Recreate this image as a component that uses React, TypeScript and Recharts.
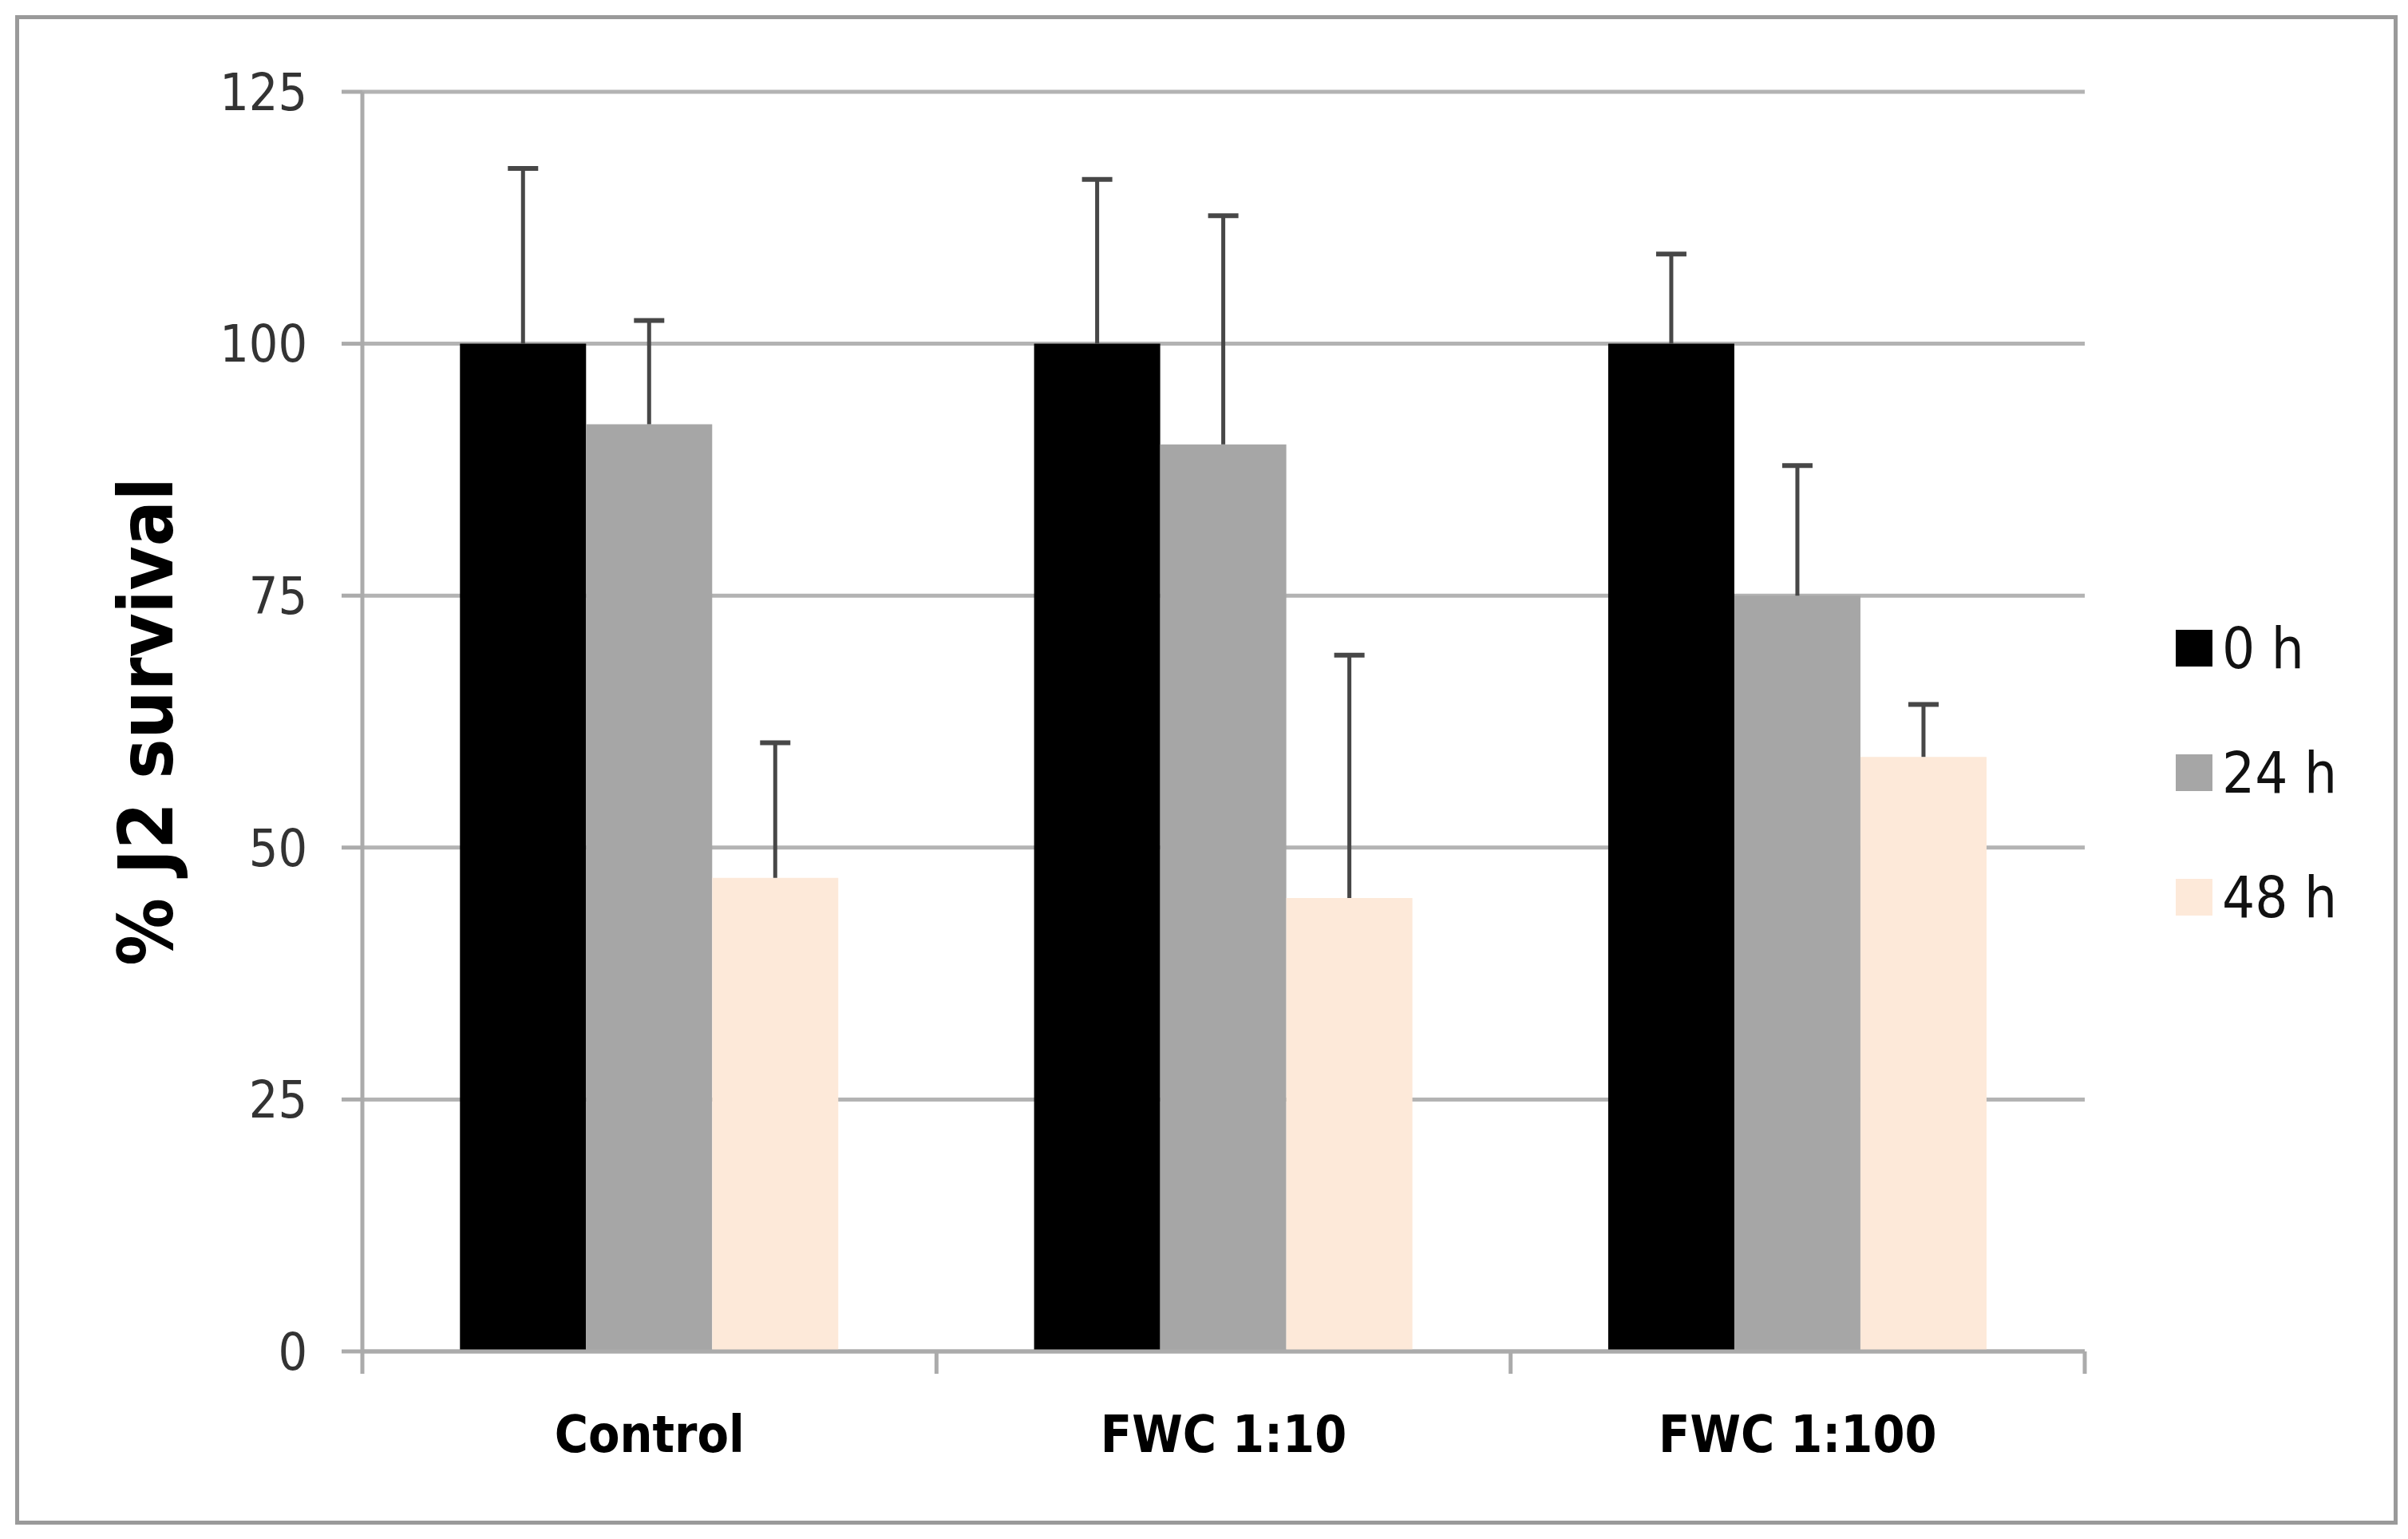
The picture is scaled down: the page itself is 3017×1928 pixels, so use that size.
import React from "react";
import {
  BarChart,
  Bar,
  XAxis,
  YAxis,
  CartesianGrid,
  Legend,
  Rectangle,
} from "recharts";

// values
const categories = ["Control", "FWC 1:10", "FWC 1:100"];
const survival0h = [100, 100, 100];
const survival24h = [92, 90, 75];
const survival48h = [47, 45, 59];
const err0h = [17.4, 16.3, 8.9];
const err24h = [10.3, 22.7, 12.9];
const err48h = [13.4, 24.1, 5.2];
const yTicks = [0, 25, 50, 75, 100, 125];

const series = [
  { key: "h0", err: "e0", name: "0 h", color: "#000000" },
  { key: "h24", err: "e24", name: "24 h", color: "#a6a6a6" },
  { key: "h48", err: "e48", name: "48 h", color: "#fde9d9" },
];

const data = categories.map((c, i) => ({
  name: c,
  h0: survival0h[i],
  h24: survival24h[i],
  h48: survival48h[i],
  e0: err0h[i],
  e24: err24h[i],
  e48: err48h[i],
}));

const W = 3017;
const H = 1928;
const M = { top: 115, right: 405, bottom: 85, left: 0 };
const Y_W = 454;
const X_H = 150;
const PLOT_W = W - M.left - M.right - Y_W;
const X_TICK = 28;
const X_MARGIN = 53;

const FONT = '"Liberation Sans Narrow", "DejaVu Sans Condensed", "Liberation Sans", sans-serif';
const AXIS_GRAY = "#ababab";

function BarWithError(props: any) {
  const { x, y, width, height, fill, payload, value, errKey } = props;
  const v = Array.isArray(value) ? value[1] - value[0] : value;
  const perUnit = v ? height / v : 0;
  const errPx = (payload?.[errKey] ?? 0) * perUnit;
  const cx = x + width / 2;
  const top = y - errPx;
  return (
    <g>
      <Rectangle x={x} y={y} width={width} height={height} fill={fill} />
      <line x1={cx} y1={y} x2={cx} y2={top} stroke="#474747" strokeWidth={5} />
      <line x1={cx - 19} y1={top} x2={cx + 19} y2={top} stroke="#474747" strokeWidth={6} />
    </g>
  );
}

function CategoryTick(props: any) {
  const { x, y, payload, index, visibleTicksCount } = props;
  const band = PLOT_W / categories.length;
  const axisY = y - X_TICK - X_MARGIN;
  const left = x - band / 2;
  return (
    <g>
      <line x1={left} y1={axisY} x2={left} y2={axisY + X_TICK} stroke={AXIS_GRAY} strokeWidth={5} />
      {index === visibleTicksCount - 1 && (
        <line x1={x + band / 2} y1={axisY} x2={x + band / 2} y2={axisY + X_TICK} stroke={AXIS_GRAY} strokeWidth={5} />
      )}
      <text
        x={x}
        y={y}
        dy="0.71em"
        textAnchor="middle"
        fontFamily={FONT}
        fontWeight="bold"
        fontSize={64}
        fill="#000"
      >
        {payload.value}
      </text>
    </g>
  );
}

function LegendBox(props: any) {
  const items = props.payload || [];
  return (
    <div style={{ fontFamily: FONT, fontSize: 72, color: "#111" }}>
      {items.map((it: any) => (
        <div key={it.value} style={{ display: "flex", alignItems: "center", height: 156 }}>
          <span style={{ width: 46, height: 46, background: it.color, display: "inline-block", marginRight: 12 }} />
          <span style={{ lineHeight: 1 }}>{it.value}</span>
        </div>
      ))}
    </div>
  );
}

export default function App() {
  return (
    <div style={{ position: "absolute", left: 0, top: 0, width: W, height: H, background: "#fff" }}>
      <div
        style={{
          position: "absolute",
          left: 19,
          top: 19,
          width: 3004 - 19,
          height: 1910 - 19,
          border: "5px solid #9a9a9a",
          boxSizing: "border-box",
          pointerEvents: "none",
        }}
      />
      <BarChart
        width={W}
        height={H}
        data={data}
        margin={M}
        barCategoryGap="17%"
        barGap={0}
      >
        <CartesianGrid vertical={false} stroke="#b3b3b3" strokeWidth={5} />
        <XAxis
          dataKey="name"
          height={X_H}
          axisLine={{ stroke: AXIS_GRAY, strokeWidth: 5 }}
          tickLine={false}
          tickSize={X_TICK}
          tickMargin={X_MARGIN}
          tick={<CategoryTick />}
          interval={0}
        />
        <YAxis
          width={Y_W}
          domain={[0, 125]}
          ticks={yTicks}
          interval={0}
          axisLine={{ stroke: AXIS_GRAY, strokeWidth: 5 }}
          tickLine={{ stroke: AXIS_GRAY, strokeWidth: 5 }}
          tickSize={26}
          tickMargin={43}
          tick={{ fontFamily: FONT, fontSize: 64, fill: "#333" }}
          label={{
            value: "% J2 survival",
            angle: -90,
            position: "insideLeft",
            offset: 183,
            style: { textAnchor: "middle", fontFamily: FONT, fontWeight: "bold", fontSize: 94, fill: "#000" },
          }}
        />
        <Legend
          layout="vertical"
          align="center"
          verticalAlign="middle"
          content={<LegendBox />}
          wrapperStyle={{ left: 2726, top: 734, width: 260 }}
        />
        {series.map((s) => (
          <Bar
            key={s.key}
            dataKey={s.key}
            name={s.name}
            fill={s.color}
            isAnimationActive={false}
            shape={(p: any) => <BarWithError {...p} errKey={s.err} />}
          />
        ))}
      </BarChart>
    </div>
  );
}
